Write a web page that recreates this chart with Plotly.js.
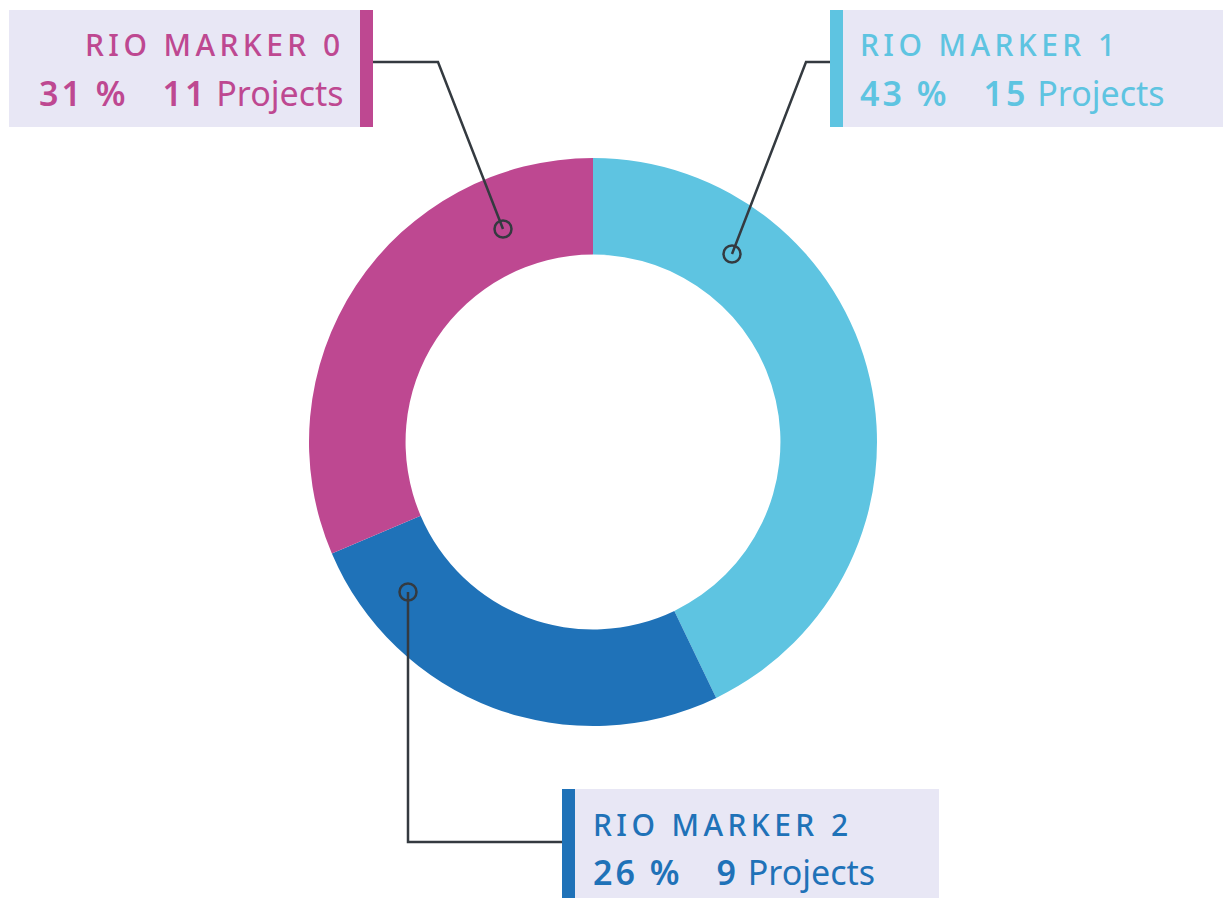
<!DOCTYPE html>
<html>
<head>
<meta charset="utf-8">
<script src="https://cdn.plot.ly/plotly-3.0.1.min.js"></script>
<style>html,body{margin:0;padding:0;background:#fff;}</style>
</head>
<body>
<div id="chart" style="width:1223px;height:898px;"></div>
<script>
// ---- data ----
const categories = ["RIO MARKER 1", "RIO MARKER 2", "RIO MARKER 0"];
const projects = [15, 9, 11];
const colors = ["#5EC4E1", "#1F72B8", "#BE4891"];
const unitLabel = "Projects";

// ---- layout constants (pixels) ----
const W = 1223, H = 898;
const pie = {cx: 593, cy: 442, r: 284, hole: 0.66};
const boxes = [
  { // RIO MARKER 1
    bg: [843, 10, 1223, 127], bar: [830, 10, 843, 127],
    textX: 858, align: "left", titleY: 44, valueY: 93,
    path: [[830, 62], [806, 62], [732, 254]]
  },
  { // RIO MARKER 2
    bg: [575, 789, 939, 898], bar: [562, 789, 575, 898],
    textX: 591, align: "left", titleY: 824, valueY: 872,
    path: [[562, 842], [408, 842], [408, 592]]
  },
  { // RIO MARKER 0
    bg: [9, 10, 360, 127], bar: [360, 10, 373, 127],
    textX: 346, align: "right", titleY: 44, valueY: 93,
    path: [[373, 62], [438, 62], [503, 229]]
  }
];

const px = x => x / W;
const py = y => 1 - y / H;

const total = projects.reduce((a, b) => a + b, 0);
const font = "'Noto Sans', 'Open Sans', sans-serif";

const shapes = [];
const annotations = [];
boxes.forEach((b, i) => {
  shapes.push({type: "rect", xref: "paper", yref: "paper",
    x0: px(b.bg[0]), y0: py(b.bg[1]), x1: px(b.bg[2]), y1: py(b.bg[3]),
    fillcolor: "#E8E7F5", line: {width: 0}, layer: "above"});
  shapes.push({type: "rect", xref: "paper", yref: "paper",
    x0: px(b.bar[0]), y0: py(b.bar[1]), x1: px(b.bar[2]), y1: py(b.bar[3]),
    fillcolor: colors[i], line: {width: 0}, layer: "above"});
  const d = b.path.map((p, k) => (k ? "L" : "M") + px(p[0]) + "," + py(p[1])).join(" ");
  shapes.push({type: "path", xref: "paper", yref: "paper", path: d,
    line: {color: "#343A40", width: 2.5}, layer: "above"});
  const a = b.path[b.path.length - 1];
  const cr = 8.5;
  shapes.push({type: "circle", xref: "paper", yref: "paper",
    x0: px(a[0] - cr), x1: px(a[0] + cr), y0: py(a[1] + cr), y1: py(a[1] - cr),
    line: {color: "#343A40", width: 2.5}, fillcolor: "rgba(0,0,0,0)", layer: "above"});

  const pct = Math.round(projects[i] / total * 100);
  const anchor = b.align === "right" ? "right" : "left";
  annotations.push({xref: "paper", yref: "paper", x: px(b.textX), y: py(b.titleY),
    xanchor: anchor, yanchor: "middle", align: b.align, showarrow: false,
    text: '<span style="letter-spacing:4.4px;font-weight:500">' + categories[i] + '</span>',
    font: {family: font, size: 30, color: colors[i]}});
  annotations.push({xref: "paper", yref: "paper", x: px(b.textX), y: py(b.valueY),
    xanchor: anchor, yanchor: "middle", align: b.align, showarrow: false,
    text: '<span style="font-weight:600;letter-spacing:3px">' + pct + ' %</span>\u2003' +
          '<span style="font-weight:600;letter-spacing:3px">' + projects[i] + '</span> ' + unitLabel,
    font: {family: font, size: 34, color: colors[i]}});
});

const data = [{
  type: "pie",
  labels: categories,
  values: projects,
  marker: {colors: colors, line: {width: 0}},
  hole: pie.hole,
  sort: false,
  direction: "clockwise",
  rotation: 0,
  textinfo: "none",
  hoverinfo: "label+value+percent",
  domain: {
    x: [px(pie.cx - pie.r), px(pie.cx + pie.r)],
    y: [py(pie.cy + pie.r), py(pie.cy - pie.r)]
  }
}];

const layout = {
  width: W, height: H,
  margin: {l: 0, r: 0, t: 0, b: 0, pad: 0},
  paper_bgcolor: "#ffffff",
  showlegend: false,
  shapes: shapes,
  annotations: annotations
};

Plotly.newPlot("chart", data, layout, {displayModeBar: false, staticPlot: true});
</script>
</body>
</html>
